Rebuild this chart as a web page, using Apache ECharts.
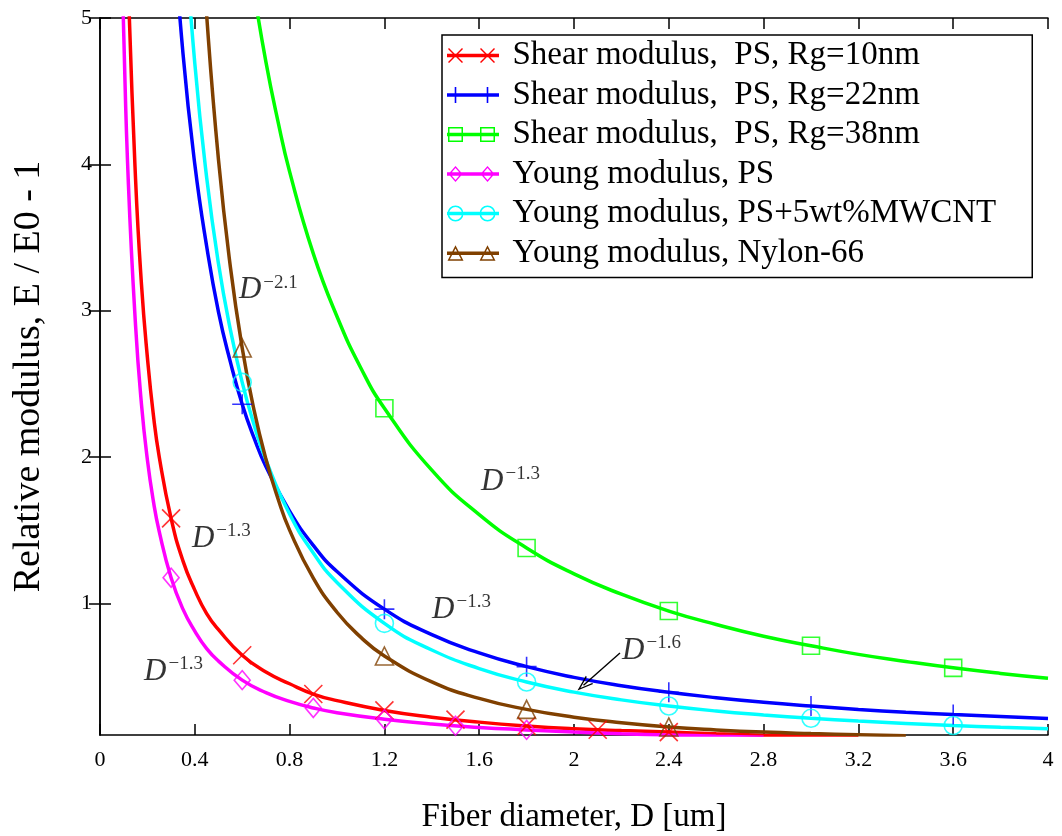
<!DOCTYPE html>
<html>
<head>
<meta charset="utf-8">
<script src="https://cdn.jsdelivr.net/npm/echarts@6.0.0/dist/echarts.min.js"></script>
<style>html,body{margin:0;padding:0;background:#fff}#c{width:1062px;height:836px}</style>
</head>
<body>
<div id="c"></div>
<script>
// ---------- data ----------
const seriesNames = [
  'Shear modulus,  PS, Rg=10nm',
  'Shear modulus,  PS, Rg=22nm',
  'Shear modulus,  PS, Rg=38nm',
  'Young modulus, PS',
  'Young modulus, PS+5wt%MWCNT',
  'Young modulus, Nylon-66'
];
const xTitle = 'Fiber diameter, D [um]';
const yTitle = 'Relative modulus, E / E0 - 1';
const yTickValues = [1, 2, 3, 4, 5];

const redCurveX = [0.1,0.12,0.15,0.175,0.2,0.225,0.25,0.3,0.35,0.4,0.45,0.5,0.6,0.7,0.8,0.9,1.0,1.2,1.4,1.6,1.8,2.0,2.2,2.4,2.6,2.8,3.0,3.2];
const redCurveY = [6.6,5.2,3.9,3.18,2.68,2.29,2.0,1.58,1.29,1.09,0.93,0.82,0.645,0.53,0.45,0.38,0.335,0.268,0.222,0.188,0.162,0.143,0.13,0.12,0.108,0.098,0.09,0.083];
const redMarkX = [0.3,0.6,0.9,1.2,1.5,1.8,2.1,2.4];
const redMarkY = [1.58,0.645,0.38,0.268,0.205,0.162,0.136,0.12];

const blueCurveX = [0.3,0.35,0.4,0.45,0.5,0.55,0.6,0.65,0.7,0.8,0.9,1.0,1.2,1.4,1.6,1.8,2.0,2.2,2.4,2.6,2.8,3.0,3.2,3.4,3.6,3.8,4.0];
const blueCurveY = [5.82,4.76,4.0,3.44,2.99,2.65,2.36,2.13,1.935,1.63,1.396,1.217,0.96,0.786,0.661,0.567,0.494,0.437,0.392,0.355,0.324,0.298,0.275,0.256,0.24,0.226,0.213];
const blueMarkX = [0.6,1.2,1.8,2.4,3.0,3.6];
const blueMarkY = [2.36,0.96,0.567,0.392,0.298,0.24];

const greenCurveX = [0.6,0.65,0.7,0.75,0.8,0.9,1.0,1.1,1.2,1.4,1.6,1.8,2.0,2.2,2.4,2.6,2.8,3.0,3.2,3.4,3.6,3.8,4.0];
const greenCurveY = [5.74,5.18,4.7,4.3,3.95,3.39,2.96,2.61,2.333,1.91,1.606,1.378,1.201,1.062,0.947,0.855,0.775,0.71,0.651,0.603,0.559,0.521,0.488];
const greenMarkX = [1.2,1.8,2.4,3.0,3.6];
const greenMarkY = [2.333,1.378,0.947,0.71,0.559];

const magCurveX = [0.08,0.09,0.1,0.12,0.15,0.175,0.2,0.225,0.25,0.3,0.35,0.4,0.45,0.5,0.6,0.7,0.8,0.9,1.0,1.2,1.4,1.6,1.8,2.0,2.2,2.4,2.6,2.8];
const magCurveY = [6.5,5.6,4.9,3.86,2.9,2.36,1.98,1.7,1.49,1.175,0.96,0.81,0.69,0.605,0.475,0.39,0.33,0.285,0.252,0.208,0.175,0.152,0.135,0.12,0.109,0.1,0.092,0.085];
const magMarkX = [0.3,0.6,0.9,1.2,1.5,1.8];
const magMarkY = [1.175,0.475,0.285,0.208,0.163,0.135];

const cyanCurveX = [0.35,0.4,0.45,0.5,0.55,0.6,0.65,0.7,0.8,0.9,1.0,1.2,1.4,1.6,1.8,2.0,2.2,2.4,2.6,2.8,3.0,3.2,3.4,3.6,3.8,4.0];
const cyanCurveY = [5.76,4.69,3.91,3.32,2.87,2.51,2.22,1.98,1.61,1.344,1.143,0.863,0.681,0.554,0.462,0.393,0.34,0.298,0.264,0.237,0.214,0.195,0.179,0.165,0.153,0.143];
const cyanMarkX = [0.6,1.2,1.8,2.4,3.0,3.6];
const cyanMarkY = [2.51,0.863,0.462,0.298,0.214,0.165];

const brownCurveX = [0.42,0.45,0.5,0.55,0.6,0.65,0.7,0.75,0.8,0.9,1.0,1.1,1.2,1.4,1.6,1.8,2.0,2.2,2.4,2.6,2.8,3.0,3.2,3.4];
const brownCurveY = [5.81,5.02,4.03,3.3,2.745,2.32,1.986,1.72,1.5,1.172,0.939,0.769,0.64,0.463,0.35,0.275,0.222,0.184,0.155,0.135,0.12,0.11,0.102,0.095];
const brownMarkX = [0.6,1.2,1.8,2.4];
const brownMarkY = [2.745,0.64,0.275,0.155];

// annotations (data coordinates of the label anchor) and exponent text
const annX = [0.586, 0.388, 0.186, 1.608, 1.401, 2.203];
const annY = [3.141, 1.443, 0.534, 1.833, 0.958, 0.674];
const annExp = ['\u22122.1', '\u22121.3', '\u22121.3', '\u22121.3', '\u22121.3', '\u22121.6'];
const arrowFrom = [2.194, 0.660];
const arrowTo = [2.040, 0.440];

// ---------- styling ----------
const FONT = 'Liberation Serif';
const colors = ['#ff0000', '#0000ff', '#00ff00', '#ff00ff', '#00ffff', '#804000'];

function zip(xs, ys) { return xs.map((x, i) => [x, ys[i]]); }

// legend icon building blocks (filled shapes; inner contours reversed -> holes)
const r = (v) => Math.round(v * 100) / 100;
function rectCW(x0, y0, x1, y1) { return `M${r(x0)},${r(y0)}L${r(x1)},${r(y0)}L${r(x1)},${r(y1)}L${r(x0)},${r(y1)}Z`; }
function rectCCW(x0, y0, x1, y1) { return `M${r(x0)},${r(y0)}L${r(x0)},${r(y1)}L${r(x1)},${r(y1)}L${r(x1)},${r(y0)}Z`; }
function poly(pts) { return 'M' + pts.map(p => r(p[0]) + ',' + r(p[1])).join('L') + 'Z'; }
const CY = 8.5;
function mkSquare(cx) { return rectCW(cx - 7.5, CY - 7.5, cx + 7.5, CY + 7.5) + rectCCW(cx - 6, CY - 6, cx + 6, CY + 6); }
function mkCircle(cx) {
  return `M${cx - 8},${CY}A8,8 0 1,1 ${cx + 8},${CY}A8,8 0 1,1 ${cx - 8},${CY}Z` +
         `M${cx - 6.5},${CY}A6.5,6.5 0 1,0 ${cx + 6.5},${CY}A6.5,6.5 0 1,0 ${cx - 6.5},${CY}Z`;
}
function mkDiamond(cx) {
  return poly([[cx, CY - 8], [cx + 7, CY], [cx, CY + 8], [cx - 7, CY]]) +
         poly([[cx, CY - 5.9], [cx - 5.2, CY], [cx, CY + 5.9], [cx + 5.2, CY]]);
}
function mkTriangle(cx) {
  return poly([[cx, CY - 8], [cx + 8, CY + 7.5], [cx - 8, CY + 7.5]]) +
         poly([[cx, CY - 4.8], [cx - 5.6, CY + 6], [cx + 5.6, CY + 6]]);
}
function mkX(cx) {
  return poly([[cx - 7.5, CY - 6.5], [cx - 6.5, CY - 7.5], [cx + 7.5, CY + 6.5], [cx + 6.5, CY + 7.5]]) +
         poly([[cx + 6.5, CY - 7.5], [cx + 7.5, CY - 6.5], [cx - 6.5, CY + 7.5], [cx - 7.5, CY + 6.5]]);
}
function mkPlus(cx) { return rectCW(cx - 0.8, CY - 8, cx + 0.8, CY + 8) + rectCW(cx - 8, CY - 0.8, cx + 8, CY + 0.8); }
const ICON_LINE = rectCW(0, CY - 1.75, 52, CY + 1.75);
const ICON_EXT = 'M60.5,8.5L60.5,8.5Z';
function legendIcon(fn) { return 'path://' + ICON_LINE + fn(8.5) + fn(40.5) + ICON_EXT; }
const iconMakers = [mkX, mkPlus, mkSquare, mkDiamond, mkCircle, mkTriangle];

const PATH_X = 'path://M0,0L16,16M16,0L0,16';
const PATH_PLUS = 'path://M8,0L8,16M0,8L16,8';
const markerSymbols = [PATH_X, PATH_PLUS, 'rect', 'diamond', 'circle', 'triangle'];
const markerSizes = [18, 20, 17, [16, 19], 18, 18];

const curves = [
  [redCurveX, redCurveY, redMarkX, redMarkY],
  [blueCurveX, blueCurveY, blueMarkX, blueMarkY],
  [greenCurveX, greenCurveY, greenMarkX, greenMarkY],
  [magCurveX, magCurveY, magMarkX, magMarkY],
  [cyanCurveX, cyanCurveY, cyanMarkX, cyanMarkY],
  [brownCurveX, brownCurveY, brownMarkX, brownMarkY]
];

const series = [];
curves.forEach((c, i) => {
  series.push({
    type: 'line', name: seriesNames[i], data: zip(c[0], c[1]),
    xAxisIndex: 0, yAxisIndex: 0,
    smooth: 0.5, showSymbol: false, symbol: 'none',
    lineStyle: { color: colors[i], width: 3.5 }, itemStyle: { color: colors[i] },
    clip: true, silent: true, z: 2, emphasis: { disabled: true }
  });
  series.push({
    type: 'scatter', name: seriesNames[i], data: zip(c[2], c[3]),
    xAxisIndex: 0, yAxisIndex: 0,
    symbol: markerSymbols[i], symbolSize: markerSizes[i],
    itemStyle: { color: 'none', borderColor: colors[i], borderWidth: 1.6 },
    clip: true, silent: true, z: 3, emphasis: { disabled: true }
  });
});

series.push({
  type: 'scatter', name: 'annotations', xAxisIndex: 0, yAxisIndex: 0,
  data: annX.map((x, i) => [x, annY[i]]),
  symbolSize: 0, silent: true, z: 5, clip: false,
  label: {
    show: true, position: 'right', distance: 0,
    formatter: (p) => '{d|D}{s|' + annExp[p.dataIndex] + '}',
    rich: {
      d: { fontFamily: FONT, fontStyle: 'italic', fontSize: 31, lineHeight: 34, color: '#000' },
      s: { fontFamily: FONT, fontSize: 19, lineHeight: 18, verticalAlign: 'top', color: '#000', padding: [0, 0, 0, 2] }
    }
  },
  markLine: {
    silent: true, animation: false,
    symbol: ['none', 'path://M5,0L10,13L8.7,13L5,3.2L1.3,13L0,13Z'],
    symbolSize: [11, 16],
    lineStyle: { color: '#000', width: 1.4, type: 'solid' },
    label: { show: false },
    data: [[{ coord: arrowFrom }, { coord: arrowTo }]]
  }
});

const axisLineStyle = { show: true, lineStyle: { color: '#000', width: 1.5 } };
const tickStyle = { show: true, inside: true, length: 11, lineStyle: { color: '#000', width: 1.5 } };

const option = {
  animation: false,
  backgroundColor: '#fff',
  grid: { left: 100, right: 14, top: 18, bottom: 101, containLabel: false, outerBoundsMode: 'none' },
  legend: {
    orient: 'vertical', left: 442, top: 35,
    padding: [4, 36, 8, 5],
    itemWidth: 60.5, itemHeight: 17, itemGap: 6.5,
    backgroundColor: '#fff', borderColor: '#000', borderWidth: 1.5, borderRadius: 0,
    selectedMode: false,
    itemStyle: { borderWidth: 0 },
    textStyle: { fontFamily: FONT, fontSize: 33, lineHeight: 30, color: '#000' },
    data: seriesNames.map((n, i) => ({
      name: n, icon: legendIcon(iconMakers[i]),
      itemStyle: { color: colors[i], borderWidth: 0 }
    }))
  },
  xAxis: [
    {
      type: 'value', min: 0, max: 4, interval: 0.4, position: 'bottom',
      name: xTitle, nameLocation: 'middle', nameGap: 66,
      nameTextStyle: { fontFamily: FONT, fontSize: 33, color: '#000' },
      axisLine: axisLineStyle, axisTick: tickStyle,
      axisLabel: { fontFamily: FONT, fontSize: 22, color: '#000', margin: 14 },
      splitLine: { show: false }
    },
    {
      type: 'value', min: 0, max: 4, interval: 0.4, position: 'top',
      axisLine: axisLineStyle, axisTick: tickStyle,
      axisLabel: { show: false }, splitLine: { show: false }
    }
  ],
  yAxis: [
    {
      type: 'value', min: 0.1, max: 5, position: 'left',
      name: yTitle, nameLocation: 'middle', nameGap: 52, nameRotate: 90,
      nameTextStyle: { fontFamily: FONT, fontSize: 38, color: '#000' },
      axisLine: axisLineStyle,
      axisTick: Object.assign({}, tickStyle, { customValues: yTickValues }),
      axisLabel: { fontFamily: FONT, fontSize: 22, color: '#000', margin: 8, customValues: yTickValues },
      splitLine: { show: false }
    },
    {
      type: 'value', min: 0.1, max: 5, position: 'right',
      axisLine: axisLineStyle,
      axisTick: Object.assign({}, tickStyle, { customValues: yTickValues }),
      axisLabel: { show: false, customValues: yTickValues },
      splitLine: { show: false }
    }
  ],
  series: series
};

const chart = echarts.init(document.getElementById('c'), null, { renderer: 'canvas' });
chart.setOption(option);
</script>
</body>
</html>
